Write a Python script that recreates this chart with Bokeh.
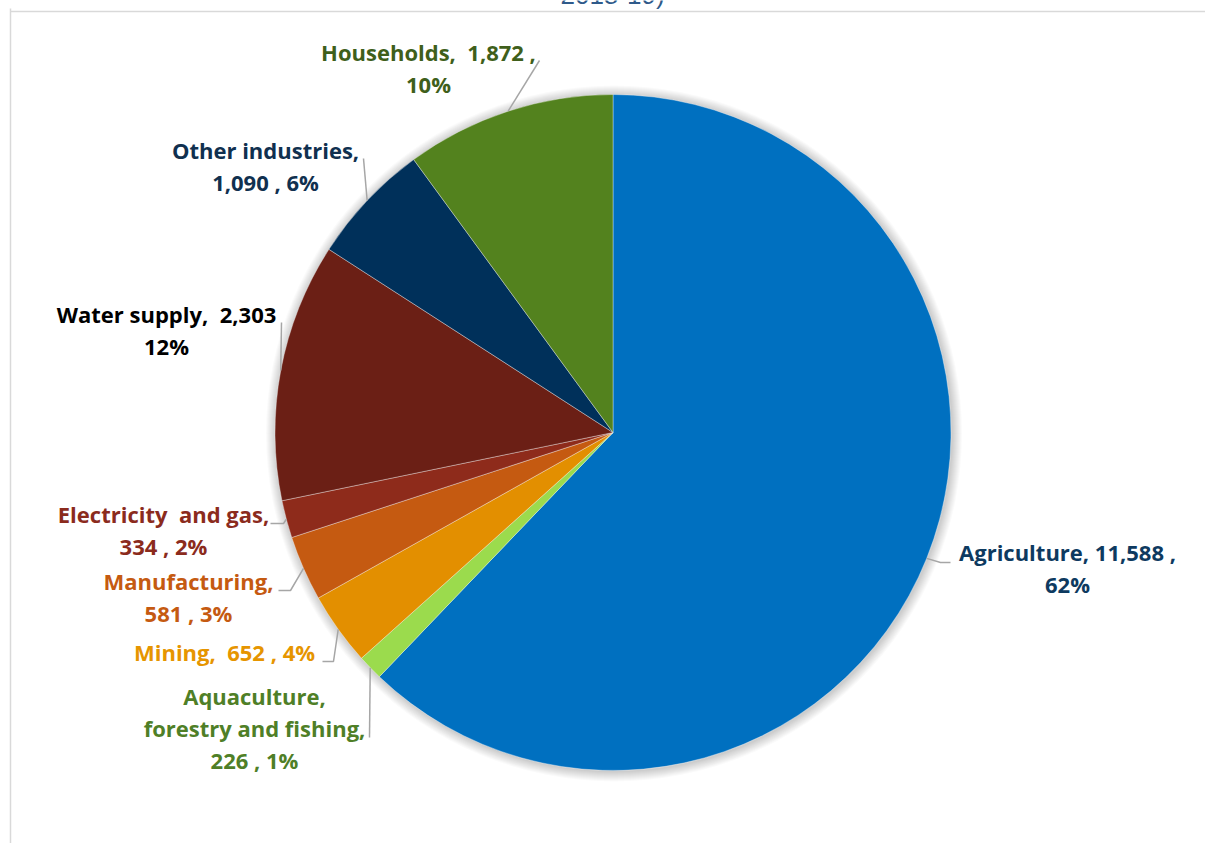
import math
from bokeh.plotting import figure
from bokeh.models import Range1d
from bokeh.embed import file_html
from bokeh.resources import INLINE
from bokeh.core.properties import value

# ---------------- data ----------------
categories = ["Agriculture", "Aquaculture, forestry and fishing", "Mining", "Manufacturing",
              "Electricity and gas", "Water supply", "Other industries", "Households"]
values = [11588, 226, 652, 581, 334, 2303, 1090, 1872]
percents = [62, 1, 4, 3, 2, 12, 6, 10]
title_fragment = "2018-19)"

# label text templates ({v} value, {p} percent)
label_templates = [
    ["Agriculture, {v} ,", "{p}%"],
    ["Aquaculture,", "forestry and fishing,", "{v} , {p}%"],
    ["Mining,\u00a0 {v} , {p}%"],
    ["Manufacturing,", "{v} , {p}%"],
    ["Electricity\u00a0 and gas,", "{v} , {p}%"],
    ["Water supply,\u00a0 {v}", "{p}%"],
    ["Other industries,", "{v} , {p}%"],
    ["Households,\u00a0 {v} ,", "{p}%"],
]

# ---------------- styling / layout ----------------
W, H = 1205, 843
slice_colors = ["#0070C0", "#9BDB4D", "#E38F00", "#C55A11", "#8E2B1B", "#6B1F15", "#00305A", "#53821E"]
label_colors = ["#0E3A60", "#4F7F27", "#E69500", "#C55A11", "#8B2B1D", "#000000", "#10304F", "#3F5F1B"]
CX, CY_PIX, R = 612.5, 432, 338
CY = H - CY_PIX
FONT = "Open Sans"
FSIZE = "22px"
LINE_GAP = 32

# label centre x, first-line y (pixels)
label_pos = [(1067, 551), (254, 695), (224, 651), (188, 580), (163, 513), (166, 313), (265, 149), (428, 51)]
# leader line points after the pie edge point (pixels)
leader_pts = [
    [(940, 562), (950, 562)],
    [(369, 737)],
    [(333, 661), (322, 661)],
    [(290, 590), (278, 590)],
    [(283, 523), (270, 523)],
    [(281, 322)],
    [(363, 158)],
    [(539, 60)],
]

p = figure(width=W, height=H, x_range=Range1d(0, W), y_range=Range1d(0, H),
           output_backend="svg", toolbar_location=None, min_border=0,
           background_fill_color="white", border_fill_color="white")
p.axis.visible = False
p.grid.visible = False
p.outline_line_color = None

# frame border
p.line(x=[10, 10], y=[H - 8, 0], line_color="#D9D9D9", line_width=1.5)
p.line(x=[10, W], y=[H - 11, H - 11], line_color="#D9D9D9", line_width=1.5)

# title fragment (cut off at top, as in the source image)
p.text(x=[612], y=[H + 6], text=[title_fragment], text_align="center", text_baseline="alphabetic",
       text_font=value("Liberation Sans"), text_font_size="26px", text_color="#2F5A8A")

# soft shadow
for i in range(10):
    p.circle(x=[CX + 1], y=[CY - 1], radius=R + 1 + i, fill_color="black", fill_alpha=0.018,
             line_color=None)

total = sum(values)
cum = 0
starts, ends, mids = [], [], []
for v in values:
    a0 = math.pi / 2 - 2 * math.pi * cum / total
    cum += v
    a1 = math.pi / 2 - 2 * math.pi * cum / total
    starts.append(a0)
    ends.append(a1)
    mids.append((a0 + a1) / 2)

p.wedge(x=CX, y=CY, radius=R, start_angle=starts, end_angle=ends, direction="clock",
        fill_color=slice_colors, line_color="white", line_width=0.6, line_alpha=0.6)

# leader lines
xs, ys = [], []
for m, pts in zip(mids, leader_pts):
    lx = [CX + R * math.cos(m)] + [q[0] for q in pts]
    ly = [CY + R * math.sin(m)] + [H - q[1] for q in pts]
    xs.append(lx)
    ys.append(ly)
p.multi_line(xs=xs, ys=ys, line_color="#A6A6A6", line_width=1.5)

# labels
tx, ty, tt, tc = [], [], [], []
for i, tmpl in enumerate(label_templates):
    cx, y0 = label_pos[i]
    for j, line in enumerate(tmpl):
        tx.append(cx)
        ty.append(H - (y0 + j * LINE_GAP))
        tt.append(line.format(v=f"{values[i]:,}", p=percents[i]))
        tc.append(label_colors[i])
p.text(x=tx, y=ty, text=tt, text_color=tc, text_align="center", text_baseline="middle",
       text_font=value(FONT), text_font_size=FSIZE, text_font_style="bold")

open("out.html", "w").write(file_html(p, INLINE))
